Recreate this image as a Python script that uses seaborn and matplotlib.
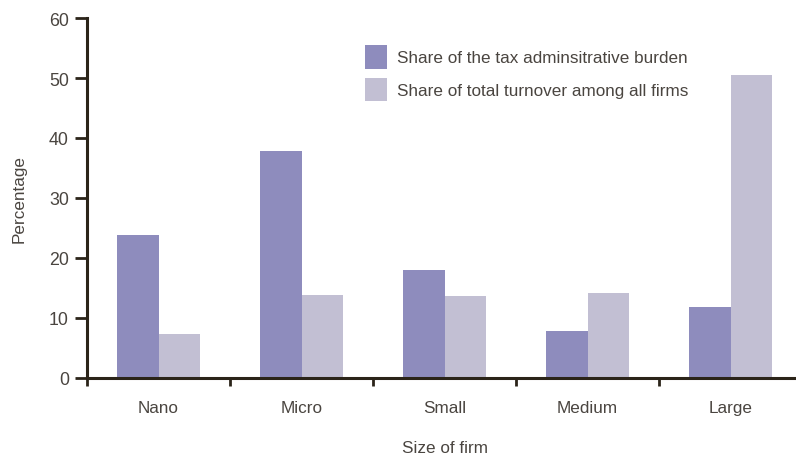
import matplotlib
matplotlib.use("Agg")
import matplotlib.pyplot as plt
import matplotlib.patches as mpatches
import seaborn as sns
import pandas as pd

# Firm size categories and the two shares (%) for each
sizes = ["Nano", "Micro", "Small", "Medium", "Large"]
burden_share = [23.8, 37.8, 18.0, 7.8, 11.8]
turnover_share = [7.4, 13.8, 13.7, 14.2, 50.5]
series_names = ["Share of the tax adminsitrative burden",
                "Share of total turnover among all firms"]
y_ticks = [0, 10, 20, 30, 40, 50, 60]

dark = "#8E8CBD"
light = "#C2BFD3"
axis_col = "#2B2419"
text_col = "#4A4540"

df = pd.DataFrame({
    "Size of firm": sizes * 2,
    "Percentage": burden_share + turnover_share,
    "Series": [series_names[0]] * len(sizes) + [series_names[1]] * len(sizes),
})

sns.set_theme(style="white")
plt.rcParams["font.family"] = ["Liberation Sans", "DejaVu Sans"]

W, H = 796, 460
fig = plt.figure(figsize=(W / 100, H / 100), dpi=100)
ax = fig.add_axes([87 / W, (H - 379) / H, 715 / W, 360 / H])

sns.barplot(data=df, x="Size of firm", y="Percentage", hue="Series",
            hue_order=series_names, palette=[dark, light], width=0.58,
            saturation=1, gap=0, linewidth=0, edgecolor="none",
            ax=ax, legend=False)

ax.set_xlim(-0.5, 4.5)
ax.set_ylim(0, 60)
ax.set_yticks(y_ticks)
ax.set_yticklabels([str(v) for v in y_ticks])

# category labels on major ticks, tick marks on group boundaries
ax.set_xticks(range(len(sizes)))
ax.set_xticklabels(sizes)
ax.set_xticks([i - 0.5 for i in range(len(sizes) + 1)], minor=True)
ax.tick_params(axis="x", which="major", length=0, pad=16,
               labelsize=12.3, labelcolor=text_col)
ax.tick_params(axis="x", which="minor", length=6, width=2, color=axis_col,
               direction="out", bottom=True)
ax.tick_params(axis="y", which="major", length=9, width=2, color=axis_col,
               direction="out", left=True, pad=4,
               labelsize=12.8, labelcolor=text_col)

for side in ["top", "right"]:
    ax.spines[side].set_visible(False)
for side in ["left", "bottom"]:
    ax.spines[side].set_color(axis_col)
    ax.spines[side].set_linewidth(2.2)

ax.set_xlabel("Size of firm", fontsize=12.3, color=text_col, labelpad=18)
ax.set_ylabel("Percentage", fontsize=12.3, color=text_col, labelpad=16)

handles = [mpatches.Patch(facecolor=dark, edgecolor="none"),
           mpatches.Patch(facecolor=light, edgecolor="none")]
leg = ax.legend(handles, series_names, loc="upper left",
                bbox_to_anchor=(365 / W, (H - 46) / H),
                bbox_transform=fig.transFigure, frameon=False,
                fontsize=12.3, handlelength=1.3, handleheight=1.75,
                handletextpad=0.6, labelspacing=0.52, borderpad=0,
                borderaxespad=0)
for t in leg.get_texts():
    t.set_color(text_col)

fig.savefig("out.png", dpi=100)
